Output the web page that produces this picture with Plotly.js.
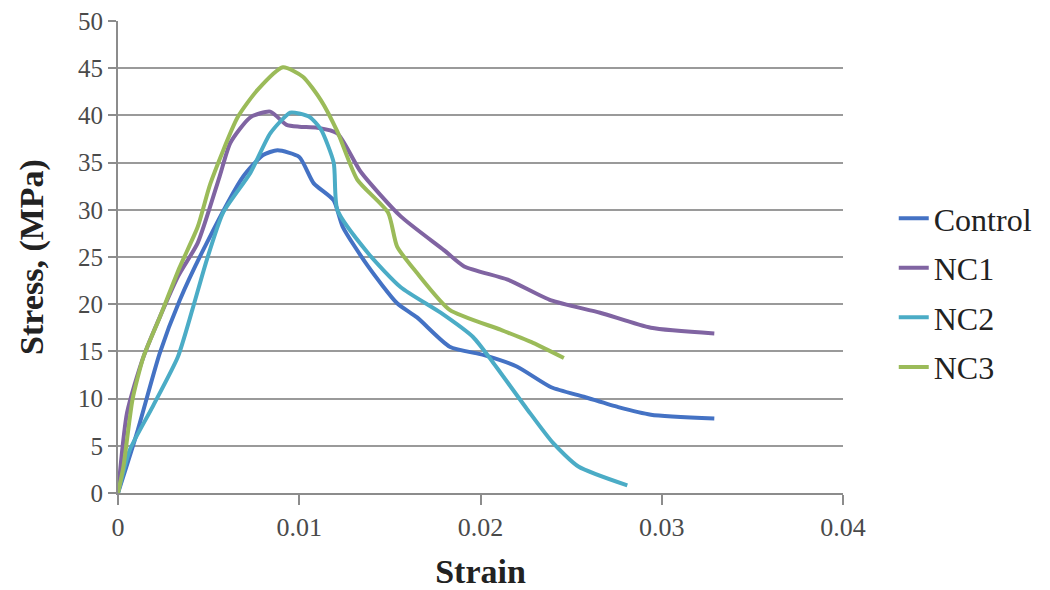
<!DOCTYPE html>
<html>
<head>
<meta charset="utf-8">
<script src="https://cdn.plot.ly/plotly-3.0.1.min.js"></script>
<style>html,body{margin:0;padding:0;background:#fff;}#chart{width:1050px;height:590px;}</style>
</head>
<body>
<div id="chart"></div>
<script>
const controlX = [0, 0.00105, 0.0023, 0.0034, 0.0049, 0.0069, 0.0080, 0.0088, 0.0100, 0.0108, 0.0119, 0.0124, 0.0138, 0.0154, 0.0165, 0.0183, 0.0202, 0.0220, 0.0239, 0.0257, 0.0276, 0.0294, 0.0329];
const controlY = [0, 6.4, 14.8, 20.4, 26.5, 33.5, 35.8, 36.3, 35.6, 32.8, 31.0, 28.2, 24.0, 20.1, 18.6, 15.5, 14.6, 13.4, 11.2, 10.2, 9.1, 8.3, 7.9];

const nc1X = [0, 0.0005, 0.0014, 0.0033, 0.0044, 0.0056, 0.0062, 0.0073, 0.0084, 0.0093, 0.0100, 0.0110, 0.0121, 0.0134, 0.0156, 0.0180, 0.0191, 0.0215, 0.0239, 0.0266, 0.0294, 0.0329];
const nc1Y = [0, 8.5, 14.4, 22.9, 26.5, 33.5, 37.1, 39.8, 40.4, 39.0, 38.8, 38.7, 38.1, 34.0, 29.3, 25.7, 24.0, 22.6, 20.4, 19.1, 17.5, 16.9];

const nc2X = [0, 0.00066, 0.0019, 0.0033, 0.0041, 0.0049, 0.0058, 0.0073, 0.0084, 0.0095, 0.0100, 0.0106, 0.0112, 0.0119, 0.0121, 0.0138, 0.0156, 0.0178, 0.0196, 0.0207, 0.0226, 0.0240, 0.0254, 0.0281];
const nc2Y = [0, 4.6, 9.1, 14.4, 19.4, 24.7, 29.7, 33.9, 38.1, 40.3, 40.2, 39.8, 38.5, 35.0, 30.0, 25.4, 21.8, 19.1, 16.5, 13.8, 8.8, 5.3, 2.8, 0.8];

const nc3X = [0, 0.0003, 0.0008, 0.0014, 0.0023, 0.0034, 0.0044, 0.0051, 0.0066, 0.0077, 0.0091, 0.0102, 0.0112, 0.0121, 0.0132, 0.0149, 0.0154, 0.0165, 0.0183, 0.0211, 0.0229, 0.0246];
const nc3Y = [0, 2.8, 9.9, 14.4, 18.6, 23.9, 28.2, 32.8, 39.8, 42.7, 45.1, 44.1, 41.6, 38.3, 33.2, 29.7, 26.1, 23.3, 19.4, 17.3, 15.9, 14.3];

const seriesNames = ["Control", "NC1", "NC2", "NC3"];
const seriesColors = ["#4472C4", "#8064A2", "#4BACC6", "#9BBB59"];
const xs = [controlX, nc1X, nc2X, nc3X];
const ys = [controlY, nc1Y, nc2Y, nc3Y];

const traces = seriesNames.map((n, i) => ({
  x: xs[i], y: ys[i], name: n, type: "scatter", mode: "lines",
  line: {color: seriesColors[i], width: 4, shape: "spline", smoothing: 0.6},
  legendgroup: n
}));

const serif = "Liberation Serif, Times New Roman, serif";
const layout = {
  width: 1050, height: 590,
  margin: {l: 118, r: 207, t: 21, b: 97},
  paper_bgcolor: "#fff", plot_bgcolor: "#fff",
  font: {family: serif, size: 26, color: "#333"},
  xaxis: {
    range: [0, 0.04], dtick: 0.01, tick0: 0, showgrid: false, zeroline: false,
    showline: true, linecolor: "#8c8c8c", linewidth: 2,
    ticks: "outside", ticklen: 10, tickcolor: "#8c8c8c", tickwidth: 2,
    tickfont: {family: serif, size: 26, color: "#4a4a4a"},
    title: {text: "<b>Strain</b>", font: {family: serif, size: 34, color: "#222"}, standoff: 22}
  },
  yaxis: {
    range: [0, 50], dtick: 5, tick0: 0, showgrid: true, gridcolor: "#9a9a9a", gridwidth: 2,
    zeroline: false, showline: true, linecolor: "#8c8c8c", linewidth: 2,
    ticks: "outside", ticklen: 8, tickcolor: "#8c8c8c", tickwidth: 2,
    tickfont: {family: serif, size: 25, color: "#4a4a4a"},
    title: {text: "<b>Stress, (MPa)</b>", font: {family: serif, size: 34, color: "#222"}, standoff: 24}
  },
  showlegend: true,
  legend: {
    x: 1.07, xanchor: "left", y: 0.424, yanchor: "middle",
    font: {family: serif, size: 32, color: "#222"},
    traceorder: "grouped", tracegroupgap: 5, bgcolor: "rgba(0,0,0,0)"
  }
};

Plotly.newPlot("chart", traces, layout, {displayModeBar: false, staticPlot: true});
</script>
</body>
</html>
